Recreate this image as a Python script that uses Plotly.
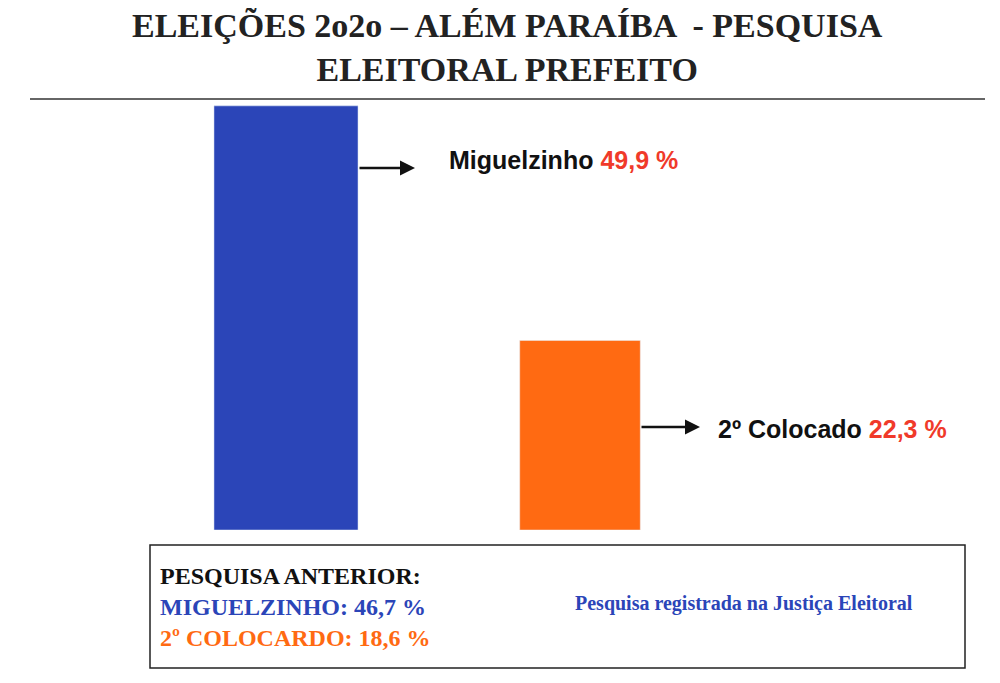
import plotly.graph_objects as go

# Dados
candidatos = ['Miguelzinho', '2º Colocado']
percentuais = [49.9, 22.3]
rotulos = ['49,9 %', '22,3 %']
cores = ['#2b45b8', '#ff6a12']
larguras = [0.49, 0.41]
anterior = [('MIGUELZINHO', '46,7 %'), ('2º COLOCARDO', '18,6 %')]

# a página tem 8px de margem no body
OFF = 8
W, H = 1000 - OFF, 683 - OFF
def px(x): return (x - OFF) / W
def py(y): return 1 - (y - OFF) / H

fig = go.Figure()
fig.add_trace(go.Bar(x=candidatos, y=percentuais, marker_color=cores,
                     width=larguras, showlegend=False, hoverinfo='skip'))

# centros das barras em 286 e 580 px
u = 294 / W
x_min = -px(286) / u
fig.update_layout(
    width=W, height=H, margin=dict(l=0, r=0, t=0, b=0),
    plot_bgcolor='white', paper_bgcolor='white',
    xaxis=dict(range=[x_min, x_min + 1 / u], visible=False, domain=[0, 1]),
    yaxis=dict(range=[0, 50], visible=False, domain=[py(530), py(105)]),
)

serif = 'Liberation Serif'
sans = 'Liberation Sans'

fig.add_annotation(x=px(507), y=py(47), xref='paper', yref='paper', showarrow=False,
                   xanchor='center', yanchor='middle',
                   text='<b>ELEIÇÕES 2o2o – ALÉM PARAÍBA  - PESQUISA<br>ELEITORAL PREFEITO</b>',
                   font=dict(family=serif, size=34, color='#222'), align='center')
fig.add_shape(type='line', xref='paper', yref='paper', x0=px(30), x1=px(985),
              y0=py(99), y1=py(99), line=dict(color='#333', width=1.5))

# Setas e rótulos
for (x0, x1, y, ty, tx), nome, rot in zip([(358, 415, 168, 160, 447), (640, 700, 427, 429, 716)],
                                          candidatos, rotulos):
    fig.add_annotation(x=px(x1), y=py(y), ax=-(x1 - x0), ay=0, xref='paper', yref='paper',
                       axref='pixel', ayref='pixel', showarrow=True, arrowhead=2,
                       arrowsize=1.2, arrowwidth=2.5, arrowcolor='#111', text='')
    fig.add_annotation(x=px(tx), y=py(ty), xref='paper', yref='paper', showarrow=False,
                       xanchor='left', yanchor='middle',
                       text=f'<b>{nome} <span style="color:#f03a2a">{rot}</span></b>',
                       font=dict(family=sans, size=25, color='#111'))

# Caixa inferior
fig.add_shape(type='rect', xref='paper', yref='paper', x0=px(150), x1=px(965),
              y0=py(668), y1=py(545), line=dict(color='#222', width=1.5))
fig.add_annotation(x=px(158), y=py(607), xref='paper', yref='paper', showarrow=False,
                   xanchor='left', yanchor='middle', align='left',
                   text='<b>PESQUISA ANTERIOR:</b><br>'
                        f'<b><span style="color:#2b45b8">{anterior[0][0]}: {anterior[0][1]}</span></b><br>'
                        f'<b><span style="color:#ff6a12">{anterior[1][0]}: {anterior[1][1]}</span></b>',
                   font=dict(family=serif, size=24, color='#111'))
fig.add_annotation(x=px(744), y=py(603), xref='paper', yref='paper', showarrow=False,
                   xanchor='center', yanchor='middle',
                   text='<b>Pesquisa registrada na Justiça Eleitoral</b>',
                   font=dict(family=serif, size=20, color='#2b45b8'))

fig.write_html('out.html')
